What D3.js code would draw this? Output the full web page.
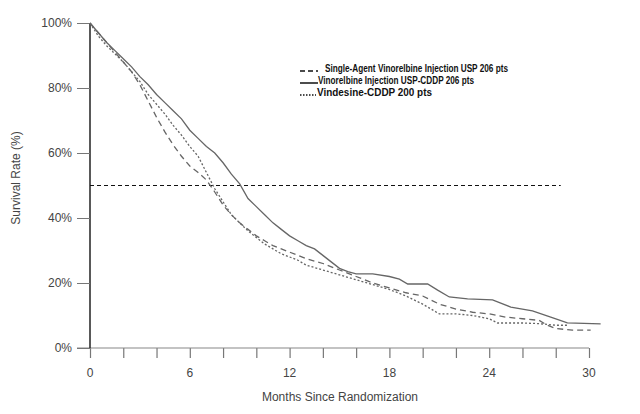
<!DOCTYPE html>
<html><head><meta charset="utf-8">
<script src="https://cdn.jsdelivr.net/npm/d3@7"></script>
<style>body{margin:0;background:#fff}svg{display:block}</style>
</head><body><div id="chart"></div>
<script>
const months = [0,0.5,1,1.5,2,2.5,3,3.5,4,4.5,5,5.5,6,6.5,7,7.5,8,8.5,9,9.5,10,10.5,11,11.5,12,12.5,13,13.5,14,14.5,15,15.5,16,17,18,18.6,19.1,20.3,20.9,21.6,22.7,24.2,25.3,26.6,27.7,28.7,30.7];
const combo = [100,97,94,91.5,89,86.5,83.5,81,78,75.5,73,70.5,67,64.5,62,60,57,53.5,50.5,46,43.5,41,38.5,36.5,34.5,33,31.5,30.5,28.5,26.5,24.5,23.5,22.8,22.8,22,21.2,19.7,19.7,17.8,15.7,15.1,14.8,12.6,11.4,9.5,7.7,7.4];

const monthsSingle = [0,0.5,1,1.5,2,2.5,3,3.5,4,4.5,5,5.5,6,6.5,7,7.5,8,8.5,9,9.5,10,10.5,11,11.5,12,12.5,13,14,15,16,17,18,19,20,21,22,23,24,25,26,27,27.5,28,29,30.1];
const single = [100,97,94,91,88,85,81,76,71,66.5,62.5,59,56,54,51.7,48,44,41,38.5,36.5,34.5,33,31.5,30.5,29.5,28.5,27.5,26,24,22,20,18.5,17,16,13.5,12,11,10.5,9.5,9,8.5,7,6,5.5,5.5];

const monthsVind = [0,0.5,1,1.5,2,2.5,3,3.5,4,4.5,5,5.5,6,6.5,7,7.5,8,8.5,9,9.5,10,10.5,11,11.5,12,12.5,13,14,15,16,17,18,19,20,21,22,23,24,24.5,26,27,28,28.7];
const vind = [100,96,93,90.5,88,85,82,78,75,72,68.5,65.5,62,59,54,49,45,41,38.5,36,34,32,30.5,29,28,27,25.5,24,22.5,21,19.5,18,16,13.5,10.5,10.5,10,9,7.7,7.7,7.5,7,7];

const legendLabels = ["Single-Agent Vinorelbine Injection USP 206 pts","Vinorelbine Injection USP-CDDP 206 pts","Vindesine-CDDP 200 pts"];
const xTicks = [0,6,12,18,24,30];
const xMinorTicks = [0,2,4,6,8,10,12,14,16,18,20,22,24,26,28,30];
const yTicks = [0,20,40,60,80,100];
const median = 50;

const W=640,H=414;
const svg=d3.select("#chart").append("svg").attr("width",W).attr("height",H);
const x=d3.scaleLinear().domain([0,30]).range([90,589]);
const y=d3.scaleLinear().domain([0,100]).range([348,23]);
const font="Liberation Sans, Arial, sans-serif";

// x axis
const xAxis=svg.append("g").attr("transform",`translate(0,${y(0)})`)
  .call(d3.axisBottom(x).tickValues(xMinorTicks).tickSize(10).tickFormat(""));
xAxis.select(".domain").remove();
xAxis.selectAll(".tick line").attr("stroke","#777").attr("stroke-width",1.2);
svg.append("line").attr("x1",77).attr("x2",x(30)).attr("y1",y(0)).attr("y2",y(0)).attr("stroke","#888").attr("stroke-width",1.2);
svg.append("g").selectAll("text").data(xTicks).join("text")
  .attr("x",d=>x(d)).attr("y",y(0)+29).attr("text-anchor","middle")
  .attr("font-family",font).attr("font-size",12).attr("fill","#444").text(d=>d);

// y axis
const yAxis=svg.append("g").attr("transform",`translate(${x(0)},0)`)
  .call(d3.axisLeft(y).tickValues(yTicks).tickSize(13).tickPadding(5).tickFormat(d=>d+"%"));
yAxis.select(".domain").attr("stroke","#222").attr("stroke-width",1.5).attr("d",`M0,${y(100)}V${y(0)}`);
yAxis.selectAll(".tick line").attr("stroke","#777");
yAxis.selectAll(".tick text").attr("font-family",font).attr("font-size",12).attr("fill","#444");

// axis titles
svg.append("text").attr("x",340).attr("y",401).attr("text-anchor","middle")
  .attr("font-family",font).attr("font-size",12).attr("fill","#444").text("Months Since Randomization");
svg.append("text").attr("transform","translate(20,178) rotate(-90)").attr("text-anchor","middle")
  .attr("font-family",font).attr("font-size",12).attr("fill","#444").text("Survival Rate (%)");

// median line
svg.append("line").attr("x1",x(0)).attr("x2",x(28.3)).attr("y1",y(median)).attr("y2",y(median))
  .attr("stroke","#111").attr("stroke-width",1).attr("stroke-dasharray","4,3");

const line=d3.line().x(d=>x(d[0])).y(d=>y(d[1]));
const series=[
  {m:monthsSingle,v:single,dash:"6,4",w:1.3},
  {m:months,v:combo,dash:null,w:1.3},
  {m:monthsVind,v:vind,dash:"2,2",w:1.3}
];
series.forEach(s=>{
  svg.append("path").datum(s.m.map((m,i)=>[m,s.v[i]])).attr("d",line)
    .attr("fill","none").attr("stroke","#666").attr("stroke-width",s.w)
    .attr("stroke-dasharray",s.dash);
});

// legend
const lg=svg.append("g");
const lx=300, ly=[68,80,92];
const lw=[183,156,115];
const markers=[{dash:"5,3",x2:318,tx:325},{dash:null,x2:318,tx:318},{dash:"1.5,1.5",x2:316,tx:317}];
legendLabels.forEach((t,i)=>{
  lg.append("line").attr("x1",lx).attr("x2",markers[i].x2).attr("y1",ly[i]+3).attr("y2",ly[i]+3)
    .attr("stroke","#111").attr("stroke-width",1.5).attr("stroke-dasharray",markers[i].dash);
  lg.append("text").attr("x",markers[i].tx).attr("y",ly[i]+4)
    .attr("font-family",font).attr("font-size",11.5).attr("font-weight","bold").attr("fill","#111")
    .attr("textLength",lw[i]).attr("lengthAdjust","spacingAndGlyphs").text(t);
});
</script></body></html>
